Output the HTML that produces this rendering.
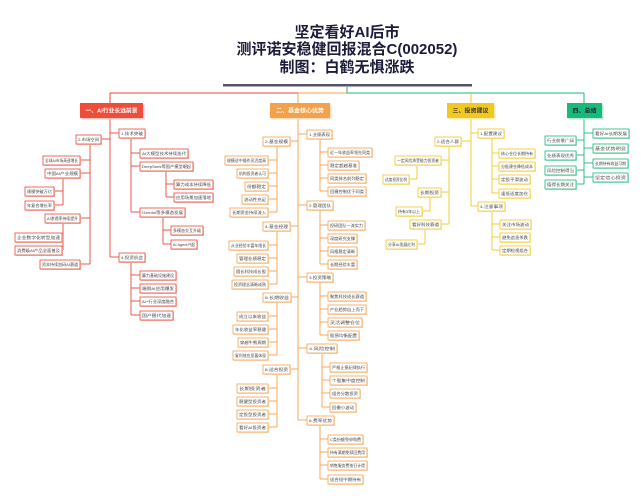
<!DOCTYPE html>
<html><head><meta charset="utf-8"><style>
html,body{margin:0;padding:0;background:#fff;}
svg{display:block;font-family:"Liberation Sans","Noto Sans CJK SC",sans-serif;}
.t{font-size:4px;fill:#444;}
.h{font-size:5.5px;font-weight:bold;fill:#fff;}
.r rect.b{fill:#fff;stroke:#e8483a;stroke-width:0.8}
.r rect.s{fill:#f9c6c0}
.o rect.b{fill:#fff;stroke:#f5a04a;stroke-width:0.8}
.o rect.s{fill:#fde0c2}
.y rect.b{fill:#fff;stroke:#efc820;stroke-width:0.8}
.y rect.s{fill:#fbeeaa}
.g rect.b{fill:#fff;stroke:#19b97a;stroke-width:0.8}
.g rect.s{fill:#b5e9d3}
.r line{stroke:#e8483a;stroke-width:0.9}
.o line{stroke:#f5a04a;stroke-width:0.9}
.y line{stroke:#efc820;stroke-width:0.9}
.g line{stroke:#19b97a;stroke-width:0.9}
</style></head><body>
<svg width="644" height="500" viewBox="0 0 644 500" xmlns="http://www.w3.org/2000/svg">
<text x="347" y="37" text-anchor="middle" font-size="15" font-weight="bold" fill="#1c1c3a">坚定看好AI后市</text>
<text x="347" y="54" text-anchor="middle" font-size="15" font-weight="bold" fill="#1c1c3a">测评诺安稳健回报混合C(002052)</text>
<text x="347" y="72" text-anchor="middle" font-size="15" font-weight="bold" fill="#1c1c3a">制图：白鹤无惧涨跌</text>
<rect x="223" y="84" width="249" height="2.5" fill="#555566"/>
<line x1="347" y1="87" x2="347" y2="93" stroke="#19b97a" stroke-width="1"/>
<line x1="110" y1="93" x2="298" y2="93" stroke="#e8483a" stroke-width="1"/>
<line x1="298" y1="93" x2="347" y2="93" stroke="#f5a04a" stroke-width="1"/>
<line x1="347" y1="93" x2="584" y2="93" stroke="#19b97a" stroke-width="1"/>
<line x1="110" y1="93" x2="110" y2="103" stroke="#e8483a" stroke-width="1"/>
<line x1="298" y1="93" x2="298" y2="103" stroke="#f5a04a" stroke-width="1"/>
<line x1="471" y1="93" x2="471" y2="103" stroke="#efc820" stroke-width="1"/>
<line x1="584" y1="93" x2="584" y2="103" stroke="#19b97a" stroke-width="1"/>

<!-- RED -->
<g class="r">
<line x1="110" y1="118" x2="110" y2="257"/>
<line x1="110" y1="133" x2="119" y2="133"/><line x1="110" y1="257" x2="119" y2="257"/><line x1="101" y1="139" x2="110" y2="139"/>
<line x1="131" y1="137" x2="131" y2="212"/>
<line x1="131" y1="153" x2="140" y2="153"/><line x1="131" y1="166" x2="140" y2="166"/><line x1="131" y1="212" x2="140" y2="212"/>
<line x1="166" y1="170" x2="166" y2="197"/><line x1="166" y1="184" x2="174" y2="184"/><line x1="166" y1="197" x2="174" y2="197"/>
<line x1="163" y1="216" x2="163" y2="244"/><line x1="163" y1="230" x2="171" y2="230"/><line x1="163" y1="244" x2="171" y2="244"/>
<line x1="131" y1="261" x2="131" y2="315"/>
<line x1="131" y1="275" x2="140" y2="275"/><line x1="131" y1="288" x2="140" y2="288"/><line x1="131" y1="301" x2="140" y2="301"/><line x1="131" y1="315" x2="140" y2="315"/>
<line x1="90" y1="143" x2="90" y2="264"/>
<line x1="80" y1="160" x2="90" y2="160"/><line x1="80" y1="173" x2="90" y2="173"/><line x1="80" y1="218" x2="90" y2="218"/><line x1="80" y1="264" x2="90" y2="264"/>
<line x1="63" y1="177" x2="63" y2="205"/><line x1="54" y1="191" x2="63" y2="191"/><line x1="54" y1="205" x2="63" y2="205"/>
<line x1="63" y1="222" x2="63" y2="250"/><line x1="62" y1="237" x2="63" y2="237"/><line x1="62" y1="250" x2="63" y2="250"/>
<rect x="81.5" y="104.5" width="63" height="15" fill="#f9c6c0"/>
<rect x="80" y="103" width="63" height="15" fill="#ef4c3a"/>
<text class="h" x="111.5" y="112.5" text-anchor="middle" textLength="52" lengthAdjust="spacingAndGlyphs">一、AI行业长远前景</text>
<rect class="s" x="120" y="130" width="26" height="9"/><rect class="b" x="119" y="129" width="26" height="9"/><text class="t" x="121" y="135" textLength="22" lengthAdjust="spacingAndGlyphs">1.技术突破</text>
<rect class="s" x="141" y="150" width="48" height="9"/><rect class="b" x="140" y="149" width="48" height="9"/><text class="t" x="142" y="155" textLength="44" lengthAdjust="spacingAndGlyphs">AI大模型技术持续迭代</text>
<rect class="s" x="141" y="163" width="53" height="9"/><rect class="b" x="140" y="162" width="53" height="9"/><text class="t" x="142" y="168" textLength="49" lengthAdjust="spacingAndGlyphs">DeepSeek等国产模型崛起</text>
<rect class="s" x="175" y="181" width="39" height="9"/><rect class="b" x="174" y="180" width="39" height="9"/><text class="t" x="176" y="186" textLength="35" lengthAdjust="spacingAndGlyphs">算力成本持续降低</text>
<rect class="s" x="175" y="194" width="39" height="9"/><rect class="b" x="174" y="193" width="39" height="9"/><text class="t" x="176" y="199" textLength="35" lengthAdjust="spacingAndGlyphs">应用场景加速落地</text>
<rect class="s" x="141" y="209" width="45" height="9"/><rect class="b" x="140" y="208" width="45" height="9"/><text class="t" x="142" y="214" textLength="41" lengthAdjust="spacingAndGlyphs">Gemini等多模态发展</text>
<rect class="s" x="172" y="227" width="32" height="9"/><rect class="b" x="171" y="226" width="32" height="9"/><text class="t" x="173" y="232" textLength="28" lengthAdjust="spacingAndGlyphs">多模态交互升级</text>
<rect class="s" x="172" y="241" width="26" height="9"/><rect class="b" x="171" y="240" width="26" height="9"/><text class="t" x="173" y="246" textLength="22" lengthAdjust="spacingAndGlyphs">AI Agent兴起</text>
<rect class="s" x="120" y="254" width="26" height="9"/><rect class="b" x="119" y="253" width="26" height="9"/><text class="t" x="121" y="259" textLength="22" lengthAdjust="spacingAndGlyphs">4.投资机会</text>
<rect class="s" x="141" y="272" width="36" height="9"/><rect class="b" x="140" y="271" width="36" height="9"/><text class="t" x="142" y="277" textLength="32" lengthAdjust="spacingAndGlyphs">算力基础设施建设</text>
<rect class="s" x="141" y="285" width="36" height="9"/><rect class="b" x="140" y="284" width="36" height="9"/><text class="t" x="142" y="290" textLength="32" lengthAdjust="spacingAndGlyphs">端侧AI应用爆发</text>
<rect class="s" x="141" y="298" width="36" height="9"/><rect class="b" x="140" y="297" width="36" height="9"/><text class="t" x="142" y="303" textLength="32" lengthAdjust="spacingAndGlyphs">AI+行业深度融合</text>
<rect class="s" x="141" y="312" width="33" height="9"/><rect class="b" x="140" y="311" width="33" height="9"/><text class="t" x="142" y="317" textLength="29" lengthAdjust="spacingAndGlyphs">国产替代加速</text>
<rect class="s" x="77" y="136" width="25" height="9"/><rect class="b" x="76" y="135" width="25" height="9"/><text class="t" x="78" y="141" textLength="21" lengthAdjust="spacingAndGlyphs">2.市场空间</text>
<rect class="s" x="44" y="157" width="37" height="9"/><rect class="b" x="43" y="156" width="37" height="9"/><text class="t" x="45" y="162" textLength="33" lengthAdjust="spacingAndGlyphs">全球AI市场高速增长</text>
<rect class="s" x="46" y="170" width="35" height="9"/><rect class="b" x="45" y="169" width="35" height="9"/><text class="t" x="47" y="175" textLength="31" lengthAdjust="spacingAndGlyphs">中国AI产业规模</text>
<rect class="s" x="26" y="188" width="29" height="9"/><rect class="b" x="25" y="187" width="29" height="9"/><text class="t" x="27" y="193" textLength="25" lengthAdjust="spacingAndGlyphs">规模突破万亿</text>
<rect class="s" x="26" y="202" width="29" height="9"/><rect class="b" x="25" y="201" width="29" height="9"/><text class="t" x="27" y="207" textLength="25" lengthAdjust="spacingAndGlyphs">年复合增长率</text>
<rect class="s" x="46" y="215" width="35" height="9"/><rect class="b" x="45" y="214" width="35" height="9"/><text class="t" x="47" y="220" textLength="31" lengthAdjust="spacingAndGlyphs">AI渗透率持续提升</text>
<rect class="s" x="16" y="234" width="47" height="9"/><rect class="b" x="15" y="233" width="47" height="9"/><text class="t" x="17" y="239" textLength="43" lengthAdjust="spacingAndGlyphs">企业数字化转型加速</text>
<rect class="s" x="16" y="247" width="47" height="9"/><rect class="b" x="15" y="246" width="47" height="9"/><text class="t" x="17" y="252" textLength="43" lengthAdjust="spacingAndGlyphs">消费级AI产品全面普及</text>
<rect class="s" x="41" y="261" width="40" height="9"/><rect class="b" x="40" y="260" width="40" height="9"/><text class="t" x="42" y="266" textLength="36" lengthAdjust="spacingAndGlyphs">资本持续加码AI赛道</text>
</g>

<!-- ORANGE -->
<g class="o">
<line x1="298" y1="118" x2="298" y2="420"/>
<line x1="298" y1="134" x2="307" y2="134"/><line x1="298" y1="205" x2="307" y2="205"/><line x1="298" y1="277" x2="307" y2="277"/><line x1="298" y1="348" x2="307" y2="348"/><line x1="298" y1="420" x2="307" y2="420"/>
<line x1="290" y1="141" x2="298" y2="141"/><line x1="290" y1="226" x2="298" y2="226"/><line x1="290" y1="297" x2="298" y2="297"/><line x1="290" y1="369" x2="298" y2="369"/>
<line x1="320" y1="138" x2="320" y2="191"/><line x1="320" y1="152" x2="328" y2="152"/><line x1="320" y1="165" x2="328" y2="165"/><line x1="320" y1="178" x2="328" y2="178"/><line x1="320" y1="191" x2="328" y2="191"/>
<line x1="320" y1="209" x2="320" y2="264"/><line x1="320" y1="225" x2="328" y2="225"/><line x1="320" y1="238" x2="328" y2="238"/><line x1="320" y1="251" x2="328" y2="251"/><line x1="320" y1="264" x2="328" y2="264"/>
<line x1="320" y1="281" x2="320" y2="335"/><line x1="320" y1="296" x2="328" y2="296"/><line x1="320" y1="309" x2="328" y2="309"/><line x1="320" y1="322" x2="328" y2="322"/><line x1="320" y1="335" x2="328" y2="335"/>
<line x1="322" y1="352" x2="322" y2="407"/><line x1="322" y1="367" x2="330" y2="367"/><line x1="322" y1="380" x2="330" y2="380"/><line x1="322" y1="393" x2="330" y2="393"/><line x1="322" y1="407" x2="330" y2="407"/>
<line x1="320" y1="424" x2="320" y2="479"/><line x1="320" y1="439" x2="328" y2="439"/><line x1="320" y1="452" x2="328" y2="452"/><line x1="320" y1="465" x2="328" y2="465"/><line x1="320" y1="479" x2="328" y2="479"/>
<line x1="277" y1="145" x2="277" y2="212"/><line x1="268" y1="160" x2="277" y2="160"/><line x1="268" y1="173" x2="277" y2="173"/><line x1="268" y1="186" x2="277" y2="186"/><line x1="268" y1="199" x2="277" y2="199"/><line x1="268" y1="212" x2="277" y2="212"/>
<line x1="277" y1="230" x2="277" y2="284"/><line x1="268" y1="245" x2="277" y2="245"/><line x1="268" y1="258" x2="277" y2="258"/><line x1="268" y1="271" x2="277" y2="271"/><line x1="268" y1="284" x2="277" y2="284"/>
<line x1="277" y1="301" x2="277" y2="355"/><line x1="268" y1="316" x2="277" y2="316"/><line x1="268" y1="329" x2="277" y2="329"/><line x1="268" y1="342" x2="277" y2="342"/><line x1="268" y1="355" x2="277" y2="355"/>
<line x1="277" y1="373" x2="277" y2="427"/><line x1="268" y1="388" x2="277" y2="388"/><line x1="268" y1="401" x2="277" y2="401"/><line x1="268" y1="414" x2="277" y2="414"/><line x1="268" y1="427" x2="277" y2="427"/>
<rect x="271.5" y="104.5" width="60" height="15" fill="#fde0c2"/>
<rect x="270" y="103" width="60" height="15" fill="#f5a04a"/>
<text class="h" x="300" y="112.5" text-anchor="middle" textLength="48" lengthAdjust="spacingAndGlyphs">二、基金核心优势</text>
<rect class="s" x="308" y="131" width="25" height="9"/><rect class="b" x="307" y="130" width="25" height="9"/><text class="t" x="309" y="136" textLength="21" lengthAdjust="spacingAndGlyphs">1.业绩表现</text>
<rect class="s" x="329" y="149" width="44" height="9"/><rect class="b" x="328" y="148" width="44" height="9"/><text class="t" x="330" y="154" textLength="40" lengthAdjust="spacingAndGlyphs">近一年收益率领先同类</text>
<rect class="s" x="329" y="162" width="31" height="9"/><rect class="b" x="328" y="161" width="31" height="9"/><text class="t" x="330" y="167" textLength="27" lengthAdjust="spacingAndGlyphs">稳定超越基准</text>
<rect class="s" x="329" y="175" width="38" height="9"/><rect class="b" x="328" y="174" width="38" height="9"/><text class="t" x="330" y="180" textLength="34" lengthAdjust="spacingAndGlyphs">同类排名前列稳定</text>
<rect class="s" x="329" y="188" width="38" height="9"/><rect class="b" x="328" y="187" width="38" height="9"/><text class="t" x="330" y="193" textLength="34" lengthAdjust="spacingAndGlyphs">回撤控制优于同类</text>
<rect class="s" x="308" y="202" width="26" height="9"/><rect class="b" x="307" y="201" width="26" height="9"/><text class="t" x="309" y="207" textLength="22" lengthAdjust="spacingAndGlyphs">2.管理团队</text>
<rect class="s" x="329" y="222" width="37" height="9"/><rect class="b" x="328" y="221" width="37" height="9"/><text class="t" x="330" y="227" textLength="33" lengthAdjust="spacingAndGlyphs">投研团队一流实力</text>
<rect class="s" x="329" y="235" width="29" height="9"/><rect class="b" x="328" y="234" width="29" height="9"/><text class="t" x="330" y="240" textLength="25" lengthAdjust="spacingAndGlyphs">深度研究支撑</text>
<rect class="s" x="329" y="248" width="29" height="9"/><rect class="b" x="328" y="247" width="29" height="9"/><text class="t" x="330" y="253" textLength="25" lengthAdjust="spacingAndGlyphs">风格稳定清晰</text>
<rect class="s" x="329" y="261" width="29" height="9"/><rect class="b" x="328" y="260" width="29" height="9"/><text class="t" x="330" y="266" textLength="25" lengthAdjust="spacingAndGlyphs">长期经验丰富</text>
<rect class="s" x="308" y="274" width="26" height="9"/><rect class="b" x="307" y="273" width="26" height="9"/><text class="t" x="309" y="279" textLength="22" lengthAdjust="spacingAndGlyphs">3.投资策略</text>
<rect class="s" x="329" y="293" width="38" height="9"/><rect class="b" x="328" y="292" width="38" height="9"/><text class="t" x="330" y="298" textLength="34" lengthAdjust="spacingAndGlyphs">聚焦科技成长赛道</text>
<rect class="s" x="329" y="306" width="38" height="9"/><rect class="b" x="328" y="305" width="38" height="9"/><text class="t" x="330" y="311" textLength="34" lengthAdjust="spacingAndGlyphs">产业趋势自上而下</text>
<rect class="s" x="329" y="319" width="34" height="9"/><rect class="b" x="328" y="318" width="34" height="9"/><text class="t" x="330" y="324" textLength="30" lengthAdjust="spacingAndGlyphs">灵活调整仓位</text>
<rect class="s" x="329" y="332" width="31" height="9"/><rect class="b" x="328" y="331" width="31" height="9"/><text class="t" x="330" y="337" textLength="27" lengthAdjust="spacingAndGlyphs">股债均衡配置</text>
<rect class="s" x="308" y="345" width="30" height="9"/><rect class="b" x="307" y="344" width="30" height="9"/><text class="t" x="309" y="350" textLength="26" lengthAdjust="spacingAndGlyphs">4.风险控制</text>
<rect class="s" x="331" y="364" width="37" height="9"/><rect class="b" x="330" y="363" width="37" height="9"/><text class="t" x="332" y="369" textLength="33" lengthAdjust="spacingAndGlyphs">严格止损纪律执行</text>
<rect class="s" x="331" y="377" width="37" height="9"/><rect class="b" x="330" y="376" width="37" height="9"/><text class="t" x="332" y="382" textLength="33" lengthAdjust="spacingAndGlyphs">个股集中度控制</text>
<rect class="s" x="331" y="390" width="30" height="9"/><rect class="b" x="330" y="389" width="30" height="9"/><text class="t" x="332" y="395" textLength="26" lengthAdjust="spacingAndGlyphs">组合分散投资</text>
<rect class="s" x="331" y="404" width="26" height="9"/><rect class="b" x="330" y="403" width="26" height="9"/><text class="t" x="332" y="409" textLength="22" lengthAdjust="spacingAndGlyphs">回撤小波动</text>
<rect class="s" x="308" y="417" width="27" height="9"/><rect class="b" x="307" y="416" width="27" height="9"/><text class="t" x="309" y="422" textLength="23" lengthAdjust="spacingAndGlyphs">6.费率优势</text>
<rect class="s" x="329" y="436" width="35" height="9"/><rect class="b" x="328" y="435" width="35" height="9"/><text class="t" x="330" y="441" textLength="31" lengthAdjust="spacingAndGlyphs">C类份额免申购费</text>
<rect class="s" x="329" y="449" width="39" height="9"/><rect class="b" x="328" y="448" width="39" height="9"/><text class="t" x="330" y="454" textLength="35" lengthAdjust="spacingAndGlyphs">持有满期免赎回费用</text>
<rect class="s" x="329" y="462" width="39" height="9"/><rect class="b" x="328" y="461" width="39" height="9"/><text class="t" x="330" y="467" textLength="35" lengthAdjust="spacingAndGlyphs">销售服务费按日计提</text>
<rect class="s" x="329" y="476" width="35" height="9"/><rect class="b" x="328" y="475" width="35" height="9"/><text class="t" x="330" y="481" textLength="31" lengthAdjust="spacingAndGlyphs">适合短中期持有</text>
<rect class="s" x="264" y="138" width="27" height="9"/><rect class="b" x="263" y="137" width="27" height="9"/><text class="t" x="265" y="143" textLength="23" lengthAdjust="spacingAndGlyphs">2.基金规模</text>
<rect class="s" x="226" y="157" width="43" height="9"/><rect class="b" x="225" y="156" width="43" height="9"/><text class="t" x="227" y="162" textLength="39" lengthAdjust="spacingAndGlyphs">规模适中操作灵活度高</text>
<rect class="s" x="238" y="170" width="31" height="9"/><rect class="b" x="237" y="169" width="31" height="9"/><text class="t" x="239" y="175" textLength="27" lengthAdjust="spacingAndGlyphs">机构投资者认可</text>
<rect class="s" x="246" y="183" width="23" height="9"/><rect class="b" x="245" y="182" width="23" height="9"/><text class="t" x="247" y="188" textLength="19" lengthAdjust="spacingAndGlyphs">份额稳定</text>
<rect class="s" x="243" y="196" width="26" height="9"/><rect class="b" x="242" y="195" width="26" height="9"/><text class="t" x="244" y="201" textLength="22" lengthAdjust="spacingAndGlyphs">流动性充足</text>
<rect class="s" x="231" y="209" width="38" height="9"/><rect class="b" x="230" y="208" width="38" height="9"/><text class="t" x="232" y="214" textLength="34" lengthAdjust="spacingAndGlyphs">长期资金持续流入</text>
<rect class="s" x="264" y="223" width="27" height="9"/><rect class="b" x="263" y="222" width="27" height="9"/><text class="t" x="265" y="228" textLength="23" lengthAdjust="spacingAndGlyphs">4.基金经理</text>
<rect class="s" x="230" y="242" width="39" height="9"/><rect class="b" x="229" y="241" width="39" height="9"/><text class="t" x="231" y="247" textLength="35" lengthAdjust="spacingAndGlyphs">从业经验丰富年限长</text>
<rect class="s" x="238" y="255" width="31" height="9"/><rect class="b" x="237" y="254" width="31" height="9"/><text class="t" x="239" y="260" textLength="27" lengthAdjust="spacingAndGlyphs">管理业绩稳定</text>
<rect class="s" x="235" y="268" width="34" height="9"/><rect class="b" x="234" y="267" width="34" height="9"/><text class="t" x="236" y="273" textLength="30" lengthAdjust="spacingAndGlyphs">擅长科技成长股</text>
<rect class="s" x="233" y="281" width="36" height="9"/><rect class="b" x="232" y="280" width="36" height="9"/><text class="t" x="234" y="286" textLength="32" lengthAdjust="spacingAndGlyphs">投资理念清晰成熟</text>
<rect class="s" x="264" y="294" width="28" height="9"/><rect class="b" x="263" y="293" width="28" height="9"/><text class="t" x="265" y="299" textLength="24" lengthAdjust="spacingAndGlyphs">6.长期收益</text>
<rect class="s" x="238" y="313" width="31" height="9"/><rect class="b" x="237" y="312" width="31" height="9"/><text class="t" x="239" y="318" textLength="27" lengthAdjust="spacingAndGlyphs">成立以来收益</text>
<rect class="s" x="234" y="326" width="35" height="9"/><rect class="b" x="233" y="325" width="35" height="9"/><text class="t" x="235" y="331" textLength="31" lengthAdjust="spacingAndGlyphs">年化收益率稳健</text>
<rect class="s" x="239" y="339" width="30" height="9"/><rect class="b" x="238" y="338" width="30" height="9"/><text class="t" x="240" y="344" textLength="26" lengthAdjust="spacingAndGlyphs">穿越牛熊周期</text>
<rect class="s" x="234" y="352" width="35" height="9"/><rect class="b" x="233" y="351" width="35" height="9"/><text class="t" x="235" y="357" textLength="31" lengthAdjust="spacingAndGlyphs">复利效应显著体现</text>
<rect class="s" x="264" y="366" width="27" height="9"/><rect class="b" x="263" y="365" width="27" height="9"/><text class="t" x="265" y="371" textLength="23" lengthAdjust="spacingAndGlyphs">8.适合投资</text>
<rect class="s" x="238" y="385" width="31" height="9"/><rect class="b" x="237" y="384" width="31" height="9"/><text class="t" x="239" y="390" textLength="27" lengthAdjust="spacingAndGlyphs">长期投资者</text>
<rect class="s" x="238" y="398" width="31" height="9"/><rect class="b" x="237" y="397" width="31" height="9"/><text class="t" x="239" y="403" textLength="27" lengthAdjust="spacingAndGlyphs">稳健型投资者</text>
<rect class="s" x="238" y="411" width="31" height="9"/><rect class="b" x="237" y="410" width="31" height="9"/><text class="t" x="239" y="416" textLength="27" lengthAdjust="spacingAndGlyphs">定投型投资者</text>
<rect class="s" x="238" y="424" width="31" height="9"/><rect class="b" x="237" y="423" width="31" height="9"/><text class="t" x="239" y="429" textLength="27" lengthAdjust="spacingAndGlyphs">看好AI投资者</text>
</g>

<!-- YELLOW -->
<g class="y">
<line x1="471" y1="118" x2="471" y2="206"/>
<line x1="471" y1="133" x2="478" y2="133"/><line x1="471" y1="206" x2="478" y2="206"/><line x1="461" y1="141" x2="471" y2="141"/>
<line x1="492" y1="137" x2="492" y2="193"/><line x1="492" y1="153" x2="499" y2="153"/><line x1="492" y1="166" x2="499" y2="166"/><line x1="492" y1="179" x2="499" y2="179"/><line x1="492" y1="193" x2="499" y2="193"/>
<line x1="492" y1="210" x2="492" y2="250"/><line x1="492" y1="224" x2="500" y2="224"/><line x1="492" y1="237" x2="500" y2="237"/><line x1="492" y1="250" x2="500" y2="250"/>
<line x1="449" y1="145" x2="449" y2="224"/><line x1="441" y1="160" x2="449" y2="160"/><line x1="441" y1="192" x2="449" y2="192"/><line x1="441" y1="224" x2="449" y2="224"/>
<line x1="417" y1="164" x2="417" y2="179"/><line x1="409" y1="179" x2="417" y2="179"/>
<line x1="430" y1="196" x2="430" y2="211"/><line x1="422" y1="211" x2="430" y2="211"/>
<line x1="425" y1="228" x2="425" y2="244"/><line x1="417" y1="244" x2="425" y2="244"/>
<rect x="448.5" y="104.5" width="47" height="15" fill="#fbeeaa"/>
<rect x="447" y="103" width="47" height="15" fill="#f0c820"/>
<text x="470.5" y="112.5" text-anchor="middle" font-size="5.5" font-weight="bold" fill="#333" textLength="36" lengthAdjust="spacingAndGlyphs">三、投资建议</text>
<rect class="s" x="479" y="130" width="26" height="9"/><rect class="b" x="478" y="129" width="26" height="9"/><text class="t" x="480" y="135" textLength="22" lengthAdjust="spacingAndGlyphs">1.配置建议</text>
<rect class="s" x="500" y="150" width="36" height="9"/><rect class="b" x="499" y="149" width="36" height="9"/><text class="t" x="501" y="155" textLength="32" lengthAdjust="spacingAndGlyphs">核心仓位长期持有</text>
<rect class="s" x="500" y="163" width="36" height="9"/><rect class="b" x="499" y="162" width="36" height="9"/><text class="t" x="501" y="168" textLength="32" lengthAdjust="spacingAndGlyphs">分批建仓降低成本</text>
<rect class="s" x="500" y="176" width="31" height="9"/><rect class="b" x="499" y="175" width="31" height="9"/><text class="t" x="501" y="181" textLength="27" lengthAdjust="spacingAndGlyphs">定投平滑波动</text>
<rect class="s" x="500" y="190" width="31" height="9"/><rect class="b" x="499" y="189" width="31" height="9"/><text class="t" x="501" y="195" textLength="27" lengthAdjust="spacingAndGlyphs">逢低适度加仓</text>
<rect class="s" x="479" y="203" width="27" height="9"/><rect class="b" x="478" y="202" width="27" height="9"/><text class="t" x="480" y="208" textLength="23" lengthAdjust="spacingAndGlyphs">4.注意事项</text>
<rect class="s" x="501" y="221" width="31" height="9"/><rect class="b" x="500" y="220" width="31" height="9"/><text class="t" x="502" y="226" textLength="27" lengthAdjust="spacingAndGlyphs">关注市场波动</text>
<rect class="s" x="501" y="234" width="30" height="9"/><rect class="b" x="500" y="233" width="30" height="9"/><text class="t" x="502" y="239" textLength="26" lengthAdjust="spacingAndGlyphs">避免追涨杀跌</text>
<rect class="s" x="501" y="247" width="30" height="9"/><rect class="b" x="500" y="246" width="30" height="9"/><text class="t" x="502" y="252" textLength="26" lengthAdjust="spacingAndGlyphs">定期检视组合</text>
<rect class="s" x="436" y="138" width="26" height="9"/><rect class="b" x="435" y="137" width="26" height="9"/><text class="t" x="437" y="143" textLength="22" lengthAdjust="spacingAndGlyphs">2.适合人群</text>
<rect class="s" x="396" y="157" width="46" height="9"/><rect class="b" x="395" y="156" width="46" height="9"/><text class="t" x="397" y="162" textLength="42" lengthAdjust="spacingAndGlyphs">一定风险承受能力投资者</text>
<rect class="s" x="384" y="176" width="26" height="9"/><rect class="b" x="383" y="175" width="26" height="9"/><text class="t" x="385" y="181" textLength="22" lengthAdjust="spacingAndGlyphs">适度投资比例</text>
<rect class="s" x="419" y="189" width="23" height="9"/><rect class="b" x="418" y="188" width="23" height="9"/><text class="t" x="420" y="194" textLength="19" lengthAdjust="spacingAndGlyphs">长期投资</text>
<rect class="s" x="397" y="208" width="26" height="9"/><rect class="b" x="396" y="207" width="26" height="9"/><text class="t" x="398" y="213" textLength="22" lengthAdjust="spacingAndGlyphs">持有3年以上</text>
<rect class="s" x="411" y="221" width="31" height="9"/><rect class="b" x="410" y="220" width="31" height="9"/><text class="t" x="412" y="226" textLength="27" lengthAdjust="spacingAndGlyphs">看好科技赛道</text>
<rect class="s" x="387" y="241" width="31" height="9"/><rect class="b" x="386" y="240" width="31" height="9"/><text class="t" x="388" y="246" textLength="27" lengthAdjust="spacingAndGlyphs">分享AI发展红利</text>
</g>

<!-- GREEN -->
<g class="g">
<line x1="584" y1="118" x2="584" y2="184"/>
<line x1="584" y1="133" x2="593" y2="133"/><line x1="584" y1="148" x2="593" y2="148"/><line x1="584" y1="163" x2="593" y2="163"/><line x1="584" y1="177" x2="593" y2="177"/>
<line x1="576" y1="140" x2="584" y2="140"/><line x1="576" y1="155" x2="584" y2="155"/><line x1="576" y1="170" x2="584" y2="170"/><line x1="576" y1="184" x2="584" y2="184"/>
<rect x="568.5" y="104.5" width="35" height="15" fill="#b5e9d3"/>
<rect x="567" y="103" width="35" height="15" fill="#19b97a"/>
<text x="584.5" y="112.5" text-anchor="middle" font-size="5.5" font-weight="bold" fill="#123" textLength="24" lengthAdjust="spacingAndGlyphs">四、总结</text>
<rect class="s" x="594" y="130" width="36" height="9"/><rect class="b" x="593" y="129" width="36" height="9"/><text class="t" x="595" y="135" textLength="32" lengthAdjust="spacingAndGlyphs">看好AI长期发展</text>
<rect class="s" x="594" y="145" width="35" height="9"/><rect class="b" x="593" y="144" width="35" height="9"/><text class="t" x="595" y="150" textLength="31" lengthAdjust="spacingAndGlyphs">基金优势明显</text>
<rect class="s" x="594" y="160" width="35" height="9"/><rect class="b" x="593" y="159" width="35" height="9"/><text class="t" x="595" y="165" textLength="31" lengthAdjust="spacingAndGlyphs">长期持有收益可期</text>
<rect class="s" x="594" y="174" width="35" height="9"/><rect class="b" x="593" y="173" width="35" height="9"/><text class="t" x="595" y="179" textLength="31" lengthAdjust="spacingAndGlyphs">坚定信心投资</text>
<rect class="s" x="546" y="137" width="31" height="9"/><rect class="b" x="545" y="136" width="31" height="9"/><text class="t" x="547" y="142" textLength="27" lengthAdjust="spacingAndGlyphs">行业前景广阔</text>
<rect class="s" x="546" y="152" width="31" height="9"/><rect class="b" x="545" y="151" width="31" height="9"/><text class="t" x="547" y="157" textLength="27" lengthAdjust="spacingAndGlyphs">业绩表现优秀</text>
<rect class="s" x="546" y="167" width="31" height="9"/><rect class="b" x="545" y="166" width="31" height="9"/><text class="t" x="547" y="172" textLength="27" lengthAdjust="spacingAndGlyphs">风险控制得当</text>
<rect class="s" x="546" y="181" width="31" height="9"/><rect class="b" x="545" y="180" width="31" height="9"/><text class="t" x="547" y="186" textLength="27" lengthAdjust="spacingAndGlyphs">值得长期关注</text>
</g>
</svg>
</body></html>
